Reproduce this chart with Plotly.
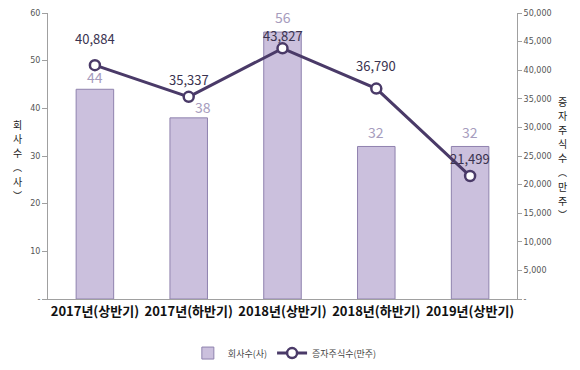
import plotly.graph_objects as go

categories = ["2017년(상반기)", "2017년(하반기)", "2018년(상반기)", "2018년(하반기)", "2019년(상반기)"]
companies = [44, 38, 56, 32, 32]
shares = [40884, 35337, 43827, 36790, 21499]

left_ticks = [0, 10, 20, 30, 40, 50, 60]
left_ticktext = ["-", "10", "20", "30", "40", "50", "60"]
right_ticks = [0, 5000, 10000, 15000, 20000, 25000, 30000, 35000, 40000, 45000, 50000]
right_ticktext = ["-"] + [f"{v:,}" for v in right_ticks[1:]]

left_title = "회사수(사)"
right_title = "증자주식수(만주)"

KFONT = "Noto Sans CJK KR"

fig = go.Figure()
fig.add_trace(go.Bar(
    x=categories, y=companies, name=left_title,
    marker=dict(color="#CBC0DD", line=dict(color="#8F82AE", width=1)),
    width=0.4,
))
fig.add_trace(go.Scatter(
    x=categories, y=shares, name=right_title, yaxis="y2",
    mode="lines+markers",
    line=dict(color="#4A3A68", width=3),
    marker=dict(size=10, color="white", line=dict(color="#4A3A68", width=2.5)),
    cliponaxis=False,
))

# bar value labels
bar_yshift = [12, 11, 15, 14, 14]
bar_xshift = [0, 14, 0, 0, 0]
for c, v, ys, xs in zip(categories, companies, bar_yshift, bar_xshift):
    fig.add_annotation(x=c, y=v, yref="y", text=str(v), showarrow=False,
                       yshift=ys, xshift=xs, borderpad=0,
                       font=dict(family=KFONT, size=14, color="#A69CBD"))

# line value labels
label_shift = [27, 17, 13, 23, 18]
for c, v, s in zip(categories, shares, label_shift):
    fig.add_annotation(x=c, y=v, yref="y2", text=f"{v:,}", showarrow=False,
                       yshift=s, borderpad=0,
                       font=dict(family=KFONT, size=13, color="#3A3350"))

# vertical axis titles (stacked characters)
def vchar(ch):
    return {"(": "︵", ")": "︶"}.get(ch, ch)

def stack_title(text, x, y_center_px, step):
    y = y_center_px - step * (len(text) - 1) / 2
    for ch in text:
        is_paren = ch in "()"
        fig.add_annotation(xref="paper", yref="paper", x=x,
                           y=(291 - (y - 8)) / 286, text=vchar(ch), showarrow=False,
                           xanchor="center", yanchor="middle", borderpad=0,
                           font=dict(family=KFONT, size=9 if is_paren else 10, color="#222"))
        y += step

stack_title(left_title, -0.066, 160, 14.2)
stack_title(right_title, 1.098, 158, 14.2)

fig.update_layout(
    width=572, height=362,
    margin=dict(l=40, r=63, t=5, b=71, autoexpand=False),
    paper_bgcolor="white", plot_bgcolor="white",
    showlegend=True,
    legend=dict(orientation="h", x=0.505, xanchor="center", y=-0.189, yanchor="middle",
                font=dict(family=KFONT, size=9, color="#444"), itemwidth=30,
                tracegroupgap=0),
    xaxis=dict(showline=True, linecolor="#A0A0A0", ticks="", showgrid=False, automargin=False,
               tickfont=dict(family=KFONT, size=13, color="#111", weight="bold")),
    yaxis=dict(range=[0, 60], tickvals=left_ticks, ticktext=left_ticktext, automargin=False,
               showline=True, linecolor="#A0A0A0", ticks="outside", ticklen=5,
               tickcolor="#A0A0A0", showgrid=False, zeroline=False,
               tickfont=dict(family="DejaVu Sans", size=8, color="#555")),
    yaxis2=dict(range=[0, 50000], tickvals=right_ticks, ticktext=right_ticktext, automargin=False,
                overlaying="y", side="right",
                showline=True, linecolor="#A0A0A0", ticks="outside", ticklen=4,
                tickcolor="#A0A0A0", showgrid=False, zeroline=False,
                tickfont=dict(family="DejaVu Sans", size=8, color="#555")),
    bargap=0.6,
)
fig.write_html("out.html")
